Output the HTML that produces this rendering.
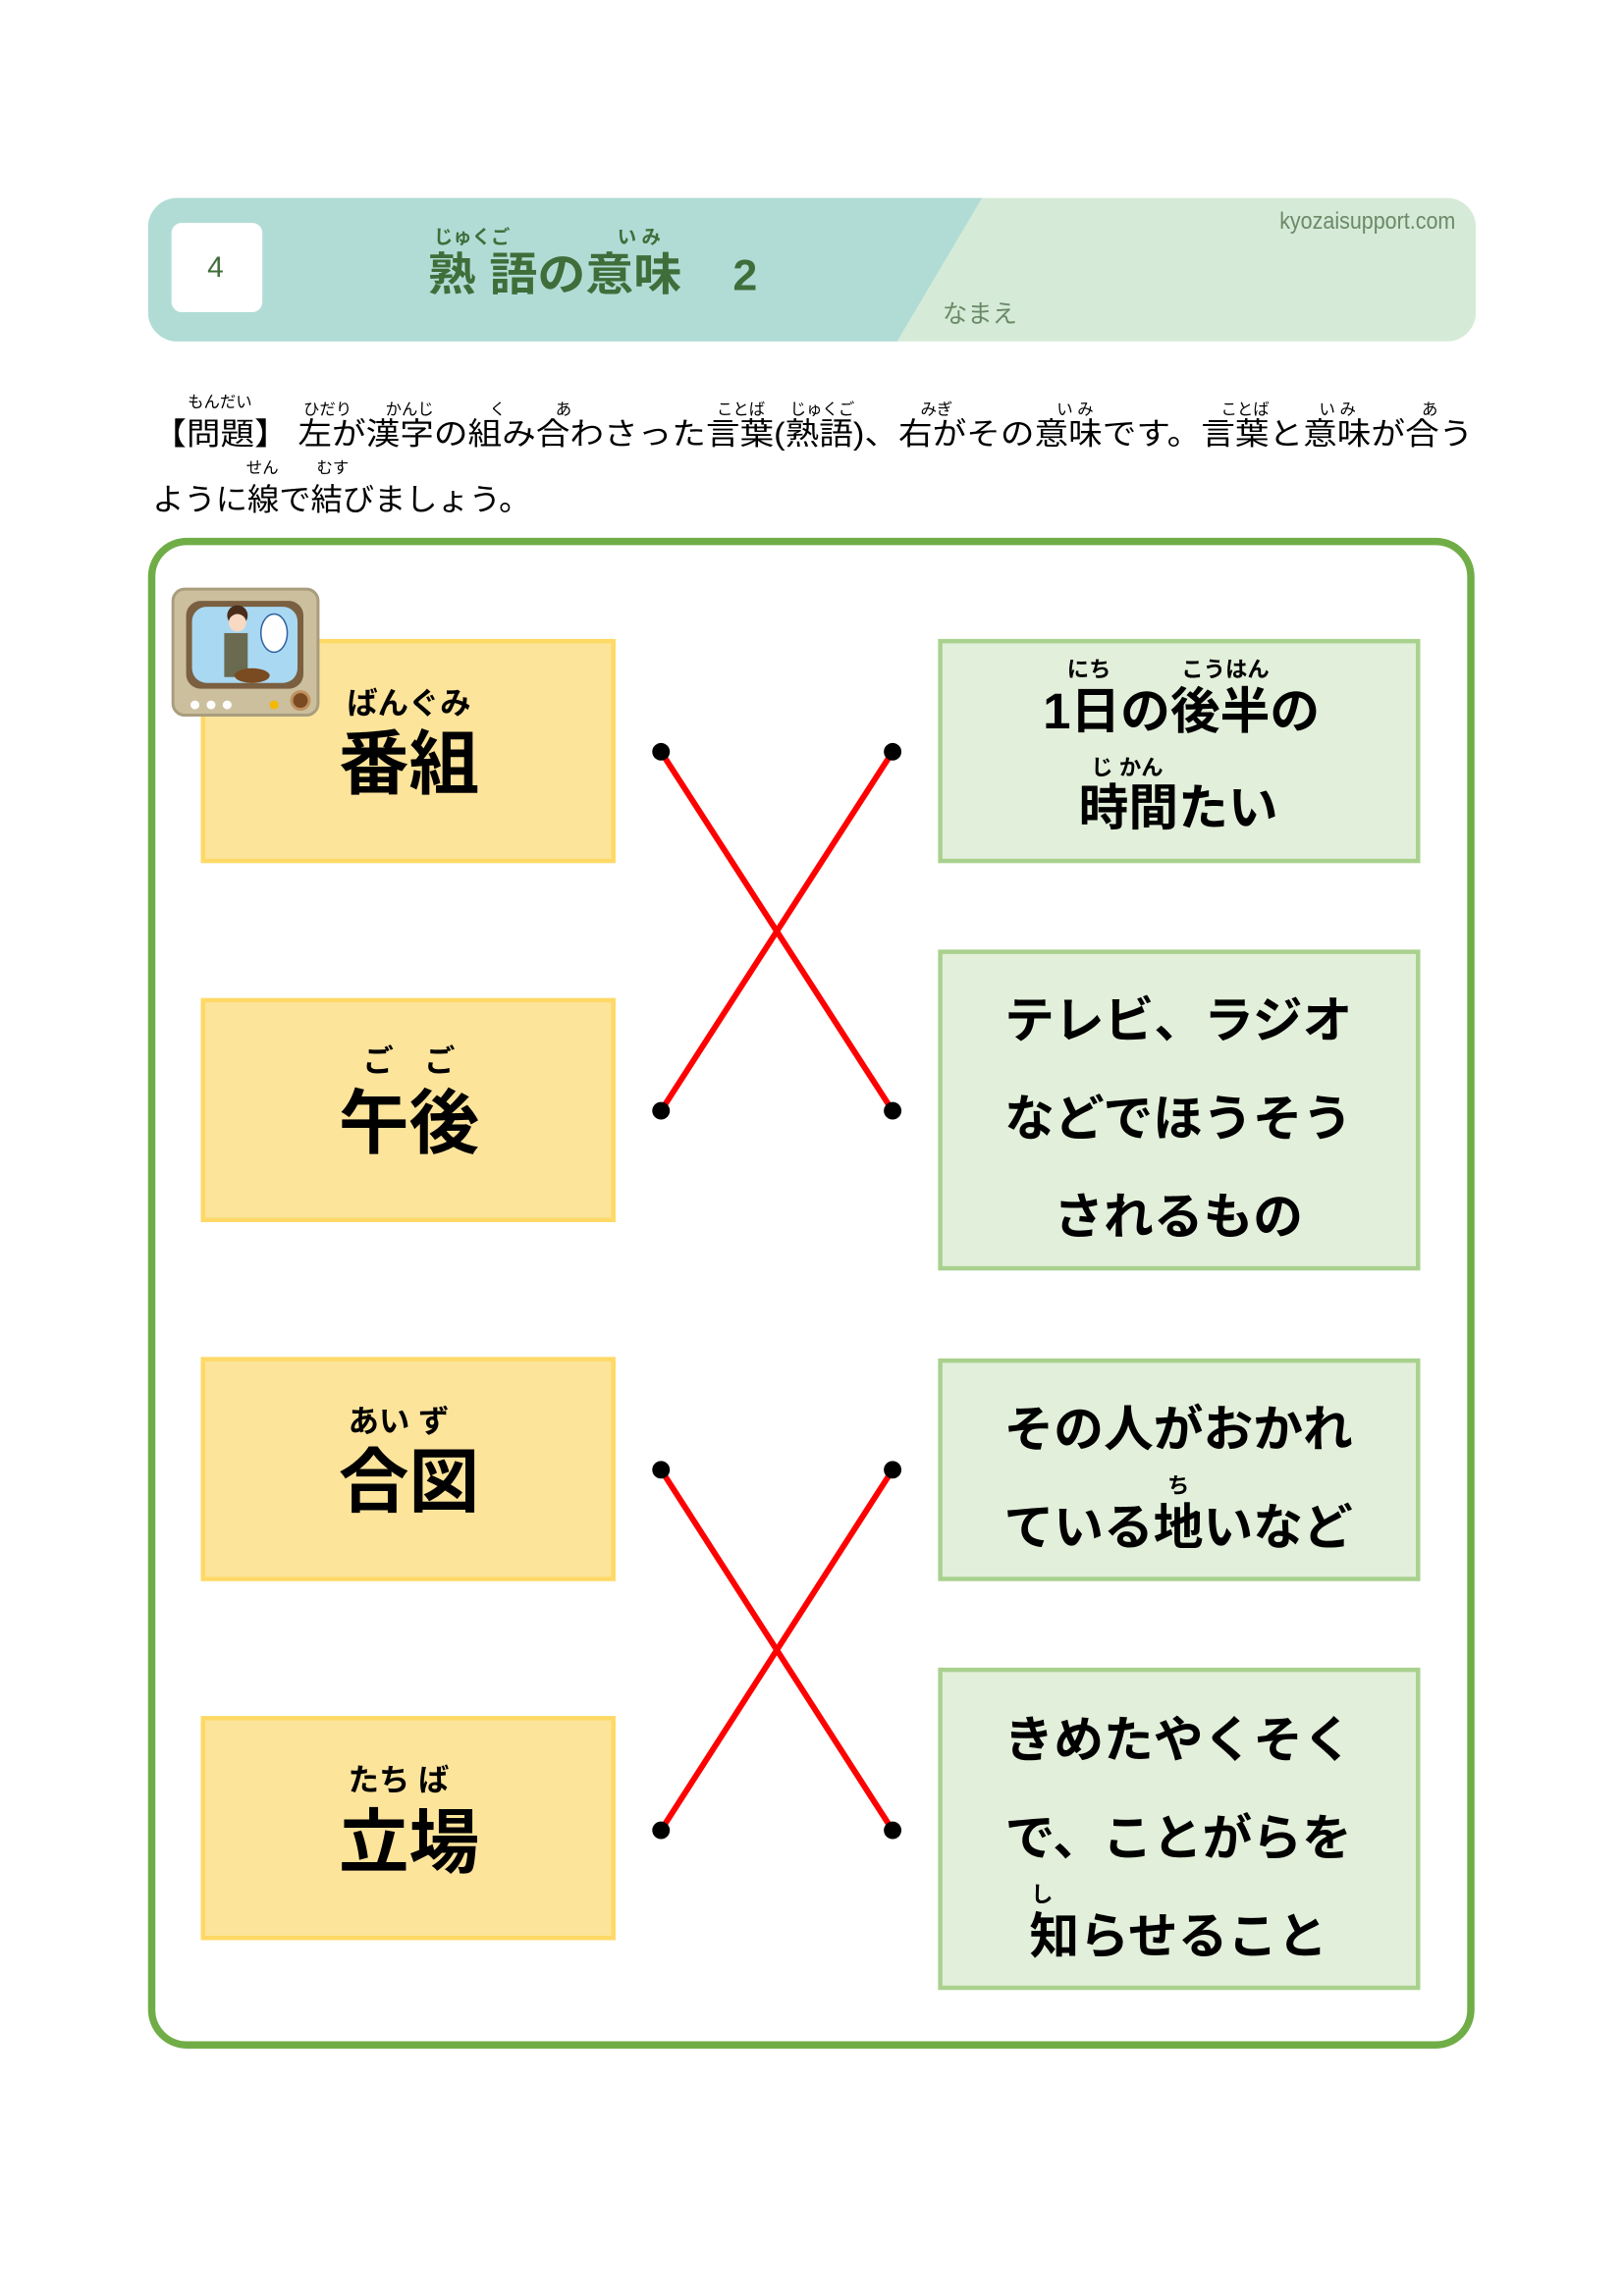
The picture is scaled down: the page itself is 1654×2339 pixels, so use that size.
<!DOCTYPE html>
<html><head><meta charset="utf-8"><style>
html,body{margin:0;padding:0;background:#fff}
svg{display:block}
text{font-family:"Liberation Sans","Noto Sans CJK JP",sans-serif}
.b{font-weight:700}
</style></head><body>
<svg width="1654" height="2339" viewBox="0 0 1108 1566.8" xmlns="http://www.w3.org/2000/svg">
<defs><clipPath id="hc"><rect x="101" y="135" width="906" height="98" rx="20"/></clipPath></defs>
<g clip-path="url(#hc)">
<rect x="101" y="135" width="906" height="98" fill="#d5ead7"/>
<polygon points="101,135 670,135 612,233 101,233" fill="#b1dcd6"/>
</g>
<rect x="117" y="152" width="62" height="61" rx="7" fill="#fff"/>
<text x="147" y="189" font-size="20" fill="#3f6e3a" text-anchor="middle">4</text>
<text x="322" y="166" font-size="13" fill="#3f6e3a" text-anchor="middle" class="b">じゅくご</text>
<text x="436" y="166" font-size="13" fill="#3f6e3a" text-anchor="middle" class="b">い み</text>
<text x="292" y="198" font-size="31" fill="#3f6e3a" class="b" textLength="173" lengthAdjust="spacingAndGlyphs">熟 語の意味</text>
<text x="500" y="198" font-size="30" fill="#3f6e3a" class="b">2</text>
<text x="873" y="156" font-size="16" fill="#6a8a68" textLength="120" lengthAdjust="spacingAndGlyphs">kyozaisupport.com</text>
<text x="643" y="220" font-size="17" fill="#6a8a68">なまえ</text>

<g font-size="11" fill="#000">
<text x="128" y="278">もんだい</text>
<text x="207" y="283">ひだり</text>
<text x="263" y="283">かんじ</text>
<text x="334" y="283">く</text>
<text x="379" y="283">あ</text>
<text x="489" y="283">ことば</text>
<text x="539" y="283">じゅくご</text>
<text x="628" y="283">みぎ</text>
<text x="721" y="283">い み</text>
<text x="833" y="283">ことば</text>
<text x="900" y="283">い み</text>
<text x="970" y="283">あ</text>
<text x="168" y="323">せん</text>
<text x="216" y="323">むす</text>
</g>
<text x="104" y="303" font-size="21" textLength="901" lengthAdjust="spacingAndGlyphs">【問題】 左が漢字の組み合わさった言葉(熟語)、右がその意味です。言葉と意味が合う</text>
<text x="104" y="348" font-size="21" textLength="258" lengthAdjust="spacingAndGlyphs">ように線で結びましょう。</text>

<rect x="103.5" y="369.5" width="900" height="1026" rx="24" fill="none" stroke="#70ad47" stroke-width="5"/>

<g fill="#fde49b" stroke="#ffd966" stroke-width="3">
<rect x="138.5" y="437.5" width="280" height="150"/>
<rect x="138.5" y="682.5" width="280" height="150"/>
<rect x="138.5" y="927.5" width="280" height="150"/>
<rect x="138.5" y="1172.5" width="280" height="150"/>
</g>
<g fill="#e2efda" stroke="#a9d18e" stroke-width="3">
<rect x="641.5" y="437.5" width="326" height="150"/>
<rect x="641.5" y="649.5" width="326" height="216"/>
<rect x="641.5" y="928.5" width="326" height="149"/>
<rect x="641.5" y="1139.5" width="326" height="217"/>
</g>

<!-- TV icon -->
<rect x="118" y="402" width="99" height="86" rx="8" fill="#cbbf9d" stroke="#a99d7e" stroke-width="2"/>
<rect x="127" y="410" width="80" height="60" rx="10" fill="#7a6040"/>
<rect x="131" y="414" width="72" height="52" rx="10" fill="#a9d8f2"/>
<circle cx="162" cy="420" r="7" fill="#4a2c1a"/>
<circle cx="162" cy="425" r="6" fill="#f7d9c4"/>
<rect x="153" y="432" width="16" height="30" fill="#6a6a50"/>
<ellipse cx="187" cy="432" rx="9" ry="13" fill="#fff" stroke="#3060a0" stroke-width="1"/>
<ellipse cx="172" cy="461" rx="12" ry="5" fill="#7a4a20"/>
<circle cx="133" cy="481" r="3" fill="#fff"/><circle cx="144" cy="481" r="3" fill="#fff"/><circle cx="155" cy="481" r="3" fill="#fff"/>
<circle cx="187" cy="481" r="3" fill="#f5b800"/><circle cx="205" cy="478" r="6" fill="#7a4a20" stroke="#c09060" stroke-width="2"/>

<g fill="#000" class="b" text-anchor="middle" font-weight="700">
<text x="279" y="487" font-size="21">ばんぐみ</text>
<text x="279" y="538" font-size="48">番組</text>
<text x="279" y="731" font-size="21">ご　ご</text>
<text x="279" y="783" font-size="48">午後</text>
<text x="272" y="977" font-size="21">あい ず</text>
<text x="279" y="1028" font-size="48">合図</text>
<text x="272" y="1222" font-size="21">たち ば</text>
<text x="279" y="1274" font-size="48">立場</text>

<text x="743" y="462" font-size="15">にち</text>
<text x="836" y="462" font-size="15">こうはん</text>
<text x="806" y="497" font-size="34">1日の後半の</text>
<text x="769" y="529" font-size="15">じ かん</text>
<text x="804" y="563" font-size="34">時間たい</text>
<text x="804" y="708" font-size="34">テレビ、ラジオ</text>
<text x="804" y="775" font-size="34">などでほうそう</text>
<text x="804" y="842" font-size="34">されるもの</text>
<text x="804" y="987" font-size="34">その人がおかれ</text>
<text x="804" y="1019" font-size="15">ち</text>
<text x="804" y="1054" font-size="34">ている地いなど</text>
<text x="804" y="1199" font-size="34">きめたやくそく</text>
<text x="804" y="1266" font-size="34">で、ことがらを</text>
<text x="711" y="1298" font-size="15">し</text>
<text x="804" y="1333" font-size="34">知らせること</text>
</g>

<g stroke="#ff0000" stroke-width="4" stroke-linecap="round">
<line x1="451" y1="513" x2="609" y2="758"/>
<line x1="609" y1="513" x2="451" y2="758"/>
<line x1="451" y1="1003" x2="609" y2="1249"/>
<line x1="609" y1="1003" x2="451" y2="1249"/>
</g>
<g fill="#000">
<circle cx="451" cy="513" r="6"/><circle cx="609" cy="513" r="6"/>
<circle cx="451" cy="758" r="6"/><circle cx="609" cy="758" r="6"/>
<circle cx="451" cy="1003" r="6"/><circle cx="609" cy="1003" r="6"/>
<circle cx="451" cy="1249" r="6"/><circle cx="609" cy="1249" r="6"/>
</g>
</svg>
</body></html>
